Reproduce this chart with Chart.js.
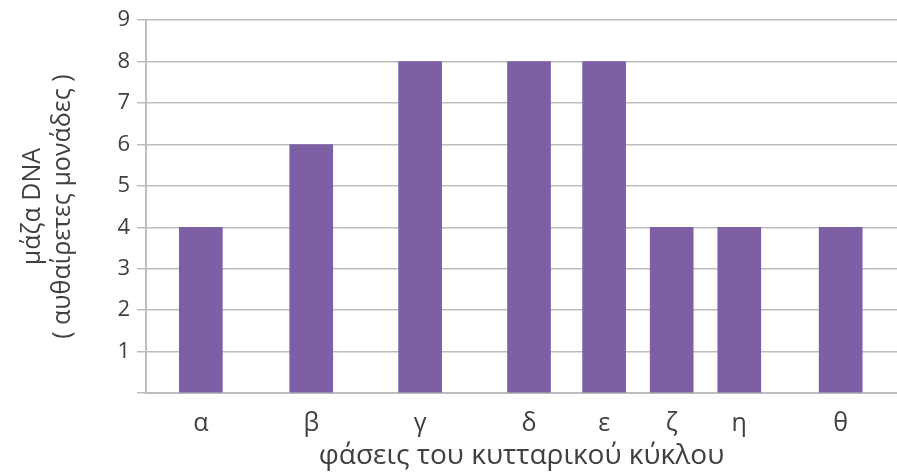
<!DOCTYPE html>
<html>
<head>
<meta charset="utf-8">
<script src="https://cdn.jsdelivr.net/npm/chart.js@4/dist/chart.umd.min.js"></script>
<style>
  html, body { margin: 0; padding: 0; background: #fff; }
  #wrap { width: 897px; height: 473px; }
</style>
</head>
<body>
<div id="wrap"><canvas id="grafica"></canvas></div>
<script>
const fases = ['α', 'β', 'γ', 'δ', 'ε', 'ζ', 'η', 'θ'];
// where each phase sits along the (unevenly spaced) x axis, 0..100
const posicion = [7.3, 22, 36.5, 51, 61, 70, 79, 92.5];
const masaDNA = [4, 6, 8, 8, 8, 4, 4, 4];

const gris = '#bdbdbd';
const texto = '#404040';

new Chart(document.getElementById('grafica'), {
    type: 'bar',
    data: {
        datasets: [{
            data: posicion.map((x, i) => ({ x: x, y: masaDNA[i] })),
            backgroundColor: '#7d5fa6',
            barThickness: 43
        }]
    },
    options: {
        responsive: true,
        maintainAspectRatio: false,
        animation: false,
        layout: { padding: { top: 20, right: 0, bottom: 0, left: 0 } },
        plugins: {
            legend: { display: false },
            tooltip: { enabled: false }
        },
        scales: {
            x: {
                type: 'linear',
                min: 0,
                max: 100,
                offset: false,
                afterBuildTicks: axis => {
                    axis.ticks = posicion.map(v => ({ value: v }));
                },
                afterFit: axis => { axis.height = 80; },
                grid: { display: false },
                border: { display: true, color: gris, width: 2 },
                ticks: {
                    autoSkip: false,
                    maxRotation: 0,
                    padding: 8,
                    color: texto,
                    font: { family: 'Open Sans', size: 25 },
                    callback: (v, i) => fases[i]
                },
                title: {
                    display: true,
                    text: 'φάσεις του κυτταρικού κύκλου',
                    color: texto,
                    font: { family: 'Open Sans', size: 28, lineHeight: 1.2 },
                    padding: { top: 0, bottom: 0 }
                }
            },
            y: {
                min: 0,
                max: 9,
                afterFit: axis => { axis.width = 146; },
                ticks: {
                    stepSize: 1,
                    padding: 7,
                    color: texto,
                    font: { family: 'Open Sans', size: 22 },
                    callback: v => v === 0 ? '' : v
                },
                grid: { color: gris, lineWidth: 1.5, tickLength: 9 },
                border: { display: true, color: gris, width: 2 },
                title: {
                    display: true,
                    text: ['μάζα DNA', '( αυθαίρετες μονάδες )'],
                    color: texto,
                    font: { family: 'Open Sans', size: 25, lineHeight: 1.2 },
                    padding: { top: 18, bottom: 0 }
                }
            }
        }
    }
});
</script>
</body>
</html>
